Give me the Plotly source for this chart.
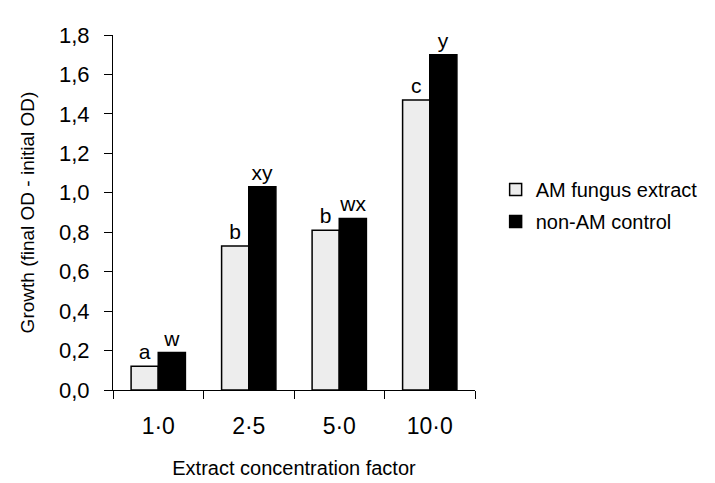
import plotly.graph_objects as go

categories = ["1·0", "2·5", "5·0", "10·0"]
am_values = [0.12, 0.73, 0.81, 1.47]
ctrl_values = [0.19, 1.03, 0.87, 1.70]
am_letters = ["a", "b", "b", "c"]
ctrl_letters = ["w", "xy", "wx", "y"]
y_ticks = [0.0, 0.2, 0.4, 0.6, 0.8, 1.0, 1.2, 1.4, 1.6, 1.8]
y_tick_labels = ["0,0", "0,2", "0,4", "0,6", "0,8", "1,0", "1,2", "1,4", "1,6", "1,8"]

font = "Liberation Sans, Arial, sans-serif"

fig = go.Figure()
fig.add_trace(go.Bar(
    x=categories, y=am_values, name="AM fungus extract", legendgroup="am",
    marker=dict(color="#ededed", line=dict(color="black", width=1.5)),
    text=am_letters, textposition="outside", cliponaxis=False,
    textfont=dict(size=21, color="black", family=font),
))
fig.add_trace(go.Bar(
    x=categories, y=ctrl_values, name="non-AM control", legendgroup="ctrl",
    marker=dict(color="black", line=dict(color="black", width=1.5)),
    text=ctrl_letters, textposition="outside", cliponaxis=False,
    textfont=dict(size=21, color="black", family=font),
))

# page body has an 8px margin, so the figure is drawn 8px smaller
fig.update_layout(
    width=707, height=475,
    margin=dict(l=105, r=219, t=27, b=93),
    paper_bgcolor="white", plot_bgcolor="white",
    barmode="group", bargap=0.40, bargroupgap=0,
    font=dict(family=font, size=17, color="black"),
    showlegend=True,
    legend=dict(x=1.057, xanchor="left", y=0.52, yanchor="middle",
                font=dict(size=20, color="black"), tracegroupgap=3,
                itemwidth=30),
)
fig.update_xaxes(
    type="category", showline=True, linecolor="black", linewidth=1,
    ticks="outside", tickson="boundaries", ticklen=8, tickcolor="black",
    tickfont=dict(size=23), showgrid=False, automargin=False,
    ticklabelstandoff=15,
    title=dict(text="Extract concentration factor", font=dict(size=20), standoff=23),
)
fig.update_yaxes(
    range=[0, 1.8], tickvals=y_ticks, ticktext=y_tick_labels,
    showline=True, linecolor="black", linewidth=1,
    ticks="outside", ticklen=8, tickcolor="black",
    tickfont=dict(size=22), showgrid=False, zeroline=False, automargin=False,
    ticklabelstandoff=10,
    title=dict(text="Growth (final OD - initial OD)", font=dict(size=19), standoff=19),
)

fig.write_html("out.html")
